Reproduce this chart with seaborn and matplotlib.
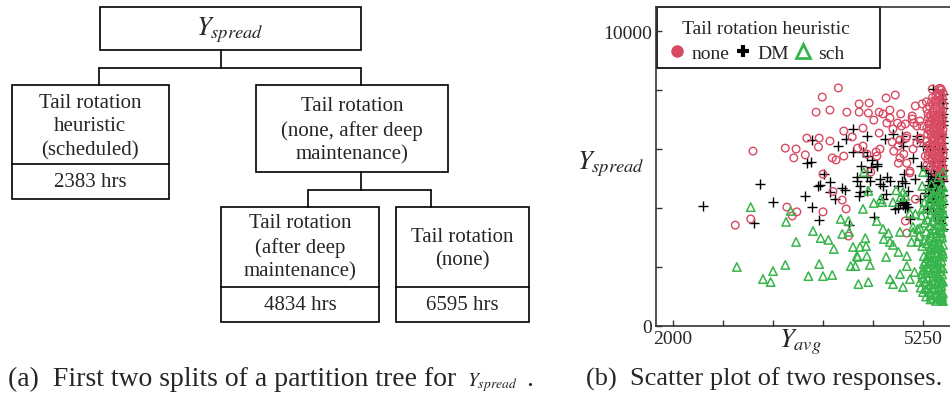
import matplotlib
matplotlib.use("Agg")
import matplotlib.pyplot as plt
import seaborn as sns
import pandas as pd
from matplotlib.patches import Rectangle
from matplotlib.lines import Line2D

# ---------------- data ----------------
categories = ["none", "DM", "sch"]
legend_title = "Tail rotation heuristic"

none_pts = [
    (3040, 5930), (2810, 3420), (3010, 3630), (3460, 6030), (3600, 6000), (3570, 5700), (3720, 5800),
    (3740, 6370), (3900, 6370), (3940, 7760), (3860, 7250), (4040, 7320), (4150, 8070), (4260, 7250),
    (4420, 7530), (4550, 7560), (4420, 7250), (4610, 6980), (4770, 7730), (4890, 7830), (4820, 7320),
    (4730, 7190), (4960, 7190), (4780, 6880), (3890, 6070), (4040, 6270), (4070, 5700), (4120, 5630),
    (4220, 5760), (4330, 6410), (4470, 6710), (4400, 6030), (4470, 6100), (4520, 5830), (4650, 5760),
    (4680, 6540), (4570, 5220), (3950, 3870), (4250, 3970), (4200, 4270), (4280, 3050), (4080, 4560),
    (3480, 4030), (3550, 3730), (3610, 3870), (4850, 6240), (4870, 5930), (4950, 5700), (5000, 5830),
    (4860, 6680), (5040, 6440), (5110, 7020), (5150, 7460), (5240, 7530), (5170, 6780), (5210, 6340),
    (5280, 5760), (5150, 4300), (5080, 5250), (5370, 8030), (4220, 6610), (3950, 5150), (4540, 7220),
    (4680, 7250), (4820, 7050), (4920, 6880), (4970, 6780), (5020, 6850), (4950, 6300), (5030, 6370),
    (4930, 6100), (4690, 6000), (4640, 5900), (4930, 5520), (5040, 5520), (5080, 5190), (5110, 7120),
    (5210, 6950), (5130, 6880), (5240, 6780), (5300, 6710), (5210, 6370), (5300, 6270), (5120, 6000),
    (5170, 6200), (5370, 5600), (5020, 3560), (5040, 3150),
    (5300, 7350), (5320, 7050), (5330, 6850), (5310, 6500), (5340, 6150), (5330, 5900), (5310, 5650),
    (5350, 5400), (5360, 7600), (5380, 7300), (5370, 7000), (5390, 6700), (5360, 6400), (5400, 6100),
    (5380, 5800), (5390, 5500), (5400, 5250), (5420, 7800), (5410, 7450), (5430, 7150), (5420, 6900),
    (5440, 6600), (5410, 6300), (5430, 6000), (5420, 5700), (5440, 5400), (5460, 7650), (5470, 7350),
    (5450, 7050), (5480, 6750), (5460, 6450), (5470, 6200), (5450, 5900), (5480, 5600), (5470, 5300),
    (5500, 7750), (5510, 7500), (5490, 7200), (5500, 6950), (5510, 6650), (5490, 6350), (5500, 6050),
    (5510, 5800), (5490, 5500), (5500, 5200), (5440, 7900), (5480, 8050), (5350, 7150), (5400, 6500),
    (5450, 6300), (5350, 6700), (5420, 5550), (5500, 7050), (5460, 5100), (5510, 5050),
    (5295, 7600), (5315, 7200), (5325, 6650), (5305, 6100), (5320, 5800), (5300, 5450), (5335, 7450),
    (5345, 6950), (5355, 6550), (5345, 6000), (5365, 5700), (5375, 7750), (5385, 7150), (5395, 6850),
    (5375, 6250), (5365, 5950), (5405, 7600), (5415, 7050), (5405, 6750), (5425, 6450), (5415, 6150),
    (5405, 5850), (5425, 5400), (5445, 7750), (5435, 7300), (5455, 6950), (5445, 6700), (5435, 6150),
    (5455, 5750), (5445, 5550), (5465, 7850), (5475, 7150), (5485, 6900), (5465, 6600), (5485, 6450),
    (5475, 6000), (5465, 5750), (5485, 5400), (5495, 7600), (5505, 7300), (5495, 6800), (5505, 6500),
    (5495, 6200), (5505, 5950), (5495, 5650), (5505, 5350), (5510, 7900), (5490, 8000), (5460, 8050),
    (5420, 7650),
]

dm_pts = [
    (2390, 4070), (3130, 4810), (3300, 4200), (3050, 3490), (3720, 4410), (3740, 5530), (3810, 6310),
    (3810, 4030), (3900, 3590), (3960, 5150), (3910, 4780), (4040, 4880), (4110, 4300), (4200, 4680),
    (4290, 3420), (4150, 6100), (4250, 6340), (4340, 6680), (4520, 6440), (4340, 5900), (4390, 4920),
    (4430, 4540), (4520, 5050), (4590, 5630), (4650, 5420), (4690, 4810), (4730, 4300), (4610, 3700),
    (4760, 6340), (4860, 6510), (4980, 6440), (4890, 3970), (4820, 4920), (5000, 5150), (4990, 6100),
    (5020, 4850), (5040, 4030), (5150, 4980), (5210, 4300), (5080, 3630), (5170, 6340), (5250, 6100),
    (5380, 8030), (3790, 5560), (3890, 4750), (4040, 4540), (4230, 4610), (4420, 4410), (4470, 5900),
    (4520, 5760), (4650, 5500), (4580, 5390), (4450, 5420), (4390, 5050), (4520, 5220), (4560, 4920),
    (4690, 4980), (4730, 4750), (4430, 4750), (4520, 4580), (4780, 5050), (4770, 4470), (4920, 4750),
    (4980, 4920), (5050, 4580), (4960, 6230), (5170, 6440), (5120, 5700), (5230, 5420), (5340, 6100),
    (5310, 4780), (5400, 6000), (5380, 5420), (5450, 5250), (5500, 4980), (5430, 4850), (5360, 4680),
    (4990, 4100), (5010, 4000), (5030, 4150), (5000, 4220), (5060, 4050), (4950, 4170), (4930, 4000),
    (5310, 5100), (5340, 4900), (5370, 4700), (5400, 4500), (5430, 4300), (5460, 4100), (5490, 3900),
    (5510, 3700), (5320, 4400), (5350, 4200), (5380, 4000), (5410, 3800), (5440, 3600), (5470, 5100),
    (5500, 4600), (5510, 5300), (5480, 5600), (5500, 5900), (5510, 6200), (5490, 6500), (5510, 6800),
    (5500, 7100), (5510, 7400), (5500, 7700), (5290, 5300), (5420, 5050), (5450, 4750), (5480, 4400),
    (5510, 4150), (5440, 5300), (5360, 5000), (5330, 4650), (5280, 4500), (5300, 3950), (5400, 4750),
    (5480, 3500), (5510, 3300),
    (5390, 5150), (5420, 4950), (5460, 4850), (5490, 5150), (5510, 4900), (5480, 4650), (5450, 4450),
    (5420, 4600), (5390, 4350), (5510, 4450), (5500, 5450), (5510, 5700), (5505, 6000), (5510, 6400),
    (5505, 6950), (5510, 7200), (5505, 7550), (5510, 7850), (5495, 5250), (5360, 5200),
]

sch_pts = [
    (2830, 2000), (3010, 4030), (3170, 1590), (3270, 1490), (3300, 1860), (3460, 2070), (3470, 3530),
    (3530, 3900), (3600, 2850), (3760, 1690), (3820, 3220), (3900, 2100), (3920, 2980), (3950, 1690),
    (4020, 2920), (4070, 1730), (4090, 2610), (4180, 3630), (4200, 3120), (4280, 3560), (4290, 3190),
    (4310, 2030), (4370, 2030), (4410, 1420), (4390, 2370), (4430, 2680), (4520, 2370), (4510, 2710),
    (4540, 1490), (4480, 5220), (4470, 3970), (4540, 4580), (4610, 4170), (4720, 4200), (4730, 3290),
    (4740, 2950), (4820, 1590), (4860, 1420), (4770, 2340), (4930, 2510), (4990, 4540), (4950, 3190),
    (4990, 1320), (5040, 2030), (5040, 2370), (5080, 1590), (5120, 3190), (5180, 2850), (5210, 1490),
    (5240, 4750), (5250, 5220), (4860, 4200), (4650, 3560), (4800, 3150), (4500, 2980), (4340, 2680),
    (4400, 2340), (4820, 2850), (4560, 2070), (4950, 1760), (4860, 2750), (5100, 2850), (5120, 3360),
    (5200, 3050), (5180, 3290), (5210, 3320), (5240, 2710), (5260, 2370), (5140, 1830), (5250, 1630),
    (5080, 3830), (5150, 3800), (5240, 3970), (5270, 4200), (5340, 4200), (5380, 3930), (5380, 4370),
    (4960, 4370), (5020, 4410), (4700, 4300), (4900, 4600),
    (5300, 4000), (5310, 3600), (5290, 3200), (5300, 2800), (5320, 2400), (5300, 2000), (5310, 1600),
    (5290, 1250), (5340, 4300), (5350, 3800), (5340, 3400), (5360, 3000), (5340, 2600), (5350, 2200),
    (5360, 1800), (5340, 1400), (5350, 1050), (5380, 4500), (5390, 4100), (5400, 3700), (5380, 3300),
    (5390, 2900), (5400, 2500), (5380, 2100), (5390, 1700), (5400, 1300), (5380, 950), (5420, 4650),
    (5430, 4250), (5420, 3850), (5440, 3450), (5420, 3050), (5430, 2650), (5440, 2250), (5420, 1850),
    (5430, 1450), (5440, 1100), (5460, 4400), (5470, 4000), (5460, 3600), (5480, 3200), (5460, 2800),
    (5470, 2400), (5480, 2000), (5460, 1600), (5470, 1200), (5480, 900), (5500, 4750), (5510, 4350),
    (5500, 3950), (5510, 3550), (5490, 3150), (5510, 2750), (5500, 2350), (5510, 1950), (5490, 1550),
    (5500, 1150), (5510, 850), (5270, 3500), (5260, 2900), (5280, 2200), (5250, 1900), (5230, 3750),
    (5320, 4550), (5450, 5050), (5510, 5200), (5360, 4800), (5420, 2000), (5350, 2700), (5480, 3400),
    (5400, 1500), (5330, 1150), (5460, 1000), (5500, 1000),
    (5490, 4550), (5470, 4250), (5500, 4150), (5450, 3850), (5490, 3750), (5510, 3350), (5470, 3350),
    (5440, 3150), (5500, 3000), (5410, 3250), (5370, 3550), (5350, 3150), (5320, 2900), (5390, 2750),
    (5450, 2950), (5480, 2650), (5500, 2550), (5440, 2450), (5410, 2650), (5370, 2350), (5330, 2150),
    (5300, 2300), (5260, 2100), (5240, 1750), (5220, 1300), (5250, 1150), (5280, 1500), (5290, 1800),
    (5320, 1900), (5360, 1550), (5380, 1250), (5410, 1050), (5450, 1300), (5490, 1350), (5510, 1100),
    (5480, 1450), (5450, 1700), (5500, 1750), (5470, 1850), (5430, 2100), (5490, 2200), (5510, 2450),
    (5400, 2200), (5360, 2450), (5320, 1300), (5290, 1000), (5350, 900), (5420, 850), (5470, 950),
    (5500, 850), (5510, 1500), (5400, 1950), (5440, 2650), (5470, 3050), (5510, 3850), (5490, 4300),
    (5460, 4600), (5510, 4700),
]

x_ticks = [2000, 2650, 3300, 3950, 4600, 5250]
x_tick_labels = ["2000", "", "", "", "", "5250"]
y_ticks = [0, 2000, 4000, 6000, 8000, 10000]
y_tick_labels = ["0", "", "", "", "", "10000"]

# partition tree texts
tree_root = r"$Y_{spread}$"
tree_left = "Tail rotation\nheuristic\n(scheduled)"
tree_left_val = "2383 hrs"
tree_right = "Tail rotation\n(none, after deep\nmaintenance)"
tree_ll = "Tail rotation\n(after deep\nmaintenance)"
tree_ll_val = "4834 hrs"
tree_lr = "Tail rotation\n(none)"
tree_lr_val = "6595 hrs"
caption_a = "(a)  First two splits of a partition tree for"
caption_a_math = r"$Y_{spread}$"
caption_b = "(b)  Scatter plot of two responses."

# ---------------- style ----------------
sns.set_style("ticks")
plt.rcParams["font.family"] = ["Liberation Serif", "DejaVu Serif"]
plt.rcParams["mathtext.fontset"] = "stix"

RED = "#d84a62"
GREEN = "#37b44a"

frames = []
for cat, pts in zip(categories, [none_pts, dm_pts, sch_pts]):
    d = pd.DataFrame(pts, columns=["Y_avg", "Y_spread"])
    d["heuristic"] = cat
    frames.append(d)
df = pd.concat(frames, ignore_index=True)

W, H = 950, 402
fig = plt.figure(figsize=(W / 100, H / 100), dpi=100)

# overlay axes in pixel coordinates for the tree diagram and captions
ov = fig.add_axes([0, 0, 1, 1])
ov.set_xlim(0, W)
ov.set_ylim(H, 0)
ov.axis("off")

LW = 1.2
def box(x0, y0, x1, y1):
    ov.add_patch(Rectangle((x0, y0), x1 - x0, y1 - y0, fill=False, ec="black", lw=LW))

def line(xs, ys):
    ov.add_line(Line2D(xs, ys, color="black", lw=LW))

TFS = 15
LS = 1.32
# root
box(100, 8, 361, 51)
ov.text(230, 30, tree_root, ha="center", va="center", fontsize=19)
line([221, 221], [51, 69])
line([99, 361], [69, 69])
line([99, 99], [69, 86])
line([361, 361], [69, 86])
# left leaf
box(12, 86, 169, 200)
line([12, 169], [165, 165])
ov.text(90, 127, tree_left, ha="center", va="center", fontsize=TFS, linespacing=LS)
ov.text(90, 183, tree_left_val, ha="center", va="center", fontsize=TFS)
# right node
box(256, 86, 448, 173)
ov.text(352, 131, tree_right, ha="center", va="center", fontsize=TFS, linespacing=LS)
line([361, 361], [173, 191])
line([308, 431], [191, 191])
line([308, 308], [191, 208])
line([431, 431], [191, 208])
# bottom leaves
box(221, 208, 379, 323)
line([221, 379], [288, 288])
ov.text(300, 248, tree_ll, ha="center", va="center", fontsize=TFS, linespacing=LS)
ov.text(300, 306, tree_ll_val, ha="center", va="center", fontsize=TFS)
box(396, 208, 529, 323)
line([396, 529], [288, 288])
ov.text(462, 249, tree_lr, ha="center", va="center", fontsize=TFS, linespacing=LS)
ov.text(462, 306, tree_lr_val, ha="center", va="center", fontsize=TFS)

# legend frame of panel (b)
ov.add_patch(Rectangle((657, 8), 223, 61, fill=True, fc="white", ec="black", lw=1.2, zorder=5))

# captions (math part placed right after the measured main text)
ta = ov.text(8, 386, caption_a, ha="left", va="baseline", fontsize=20)
fig.canvas.draw()
rend = fig.canvas.get_renderer()
x_end = ta.get_window_extent(rend).x1
tm = ov.text(x_end + 11, 386, caption_a_math, ha="left", va="baseline", fontsize=14)
fig.canvas.draw()
x_end2 = tm.get_window_extent(rend).x1
ov.text(x_end2 + 8, 386, ".", ha="left", va="baseline", fontsize=20)
ov.text(586, 386, caption_b, ha="left", va="baseline", fontsize=19)

# ---------------- scatter ----------------
left_px, right_px, top_px, bot_px = 656, 950, 8, 327
ax = fig.add_axes([left_px / W, (H - bot_px) / H, (right_px - left_px) / W, (bot_px - top_px) / H])
ax.set_facecolor("none")

sns.scatterplot(data=df[df.heuristic == "DM"], x="Y_avg", y="Y_spread", marker="+",
                color="black", s=55, linewidth=1.0, ax=ax, legend=False, zorder=2)
sns.scatterplot(data=df[df.heuristic == "none"], x="Y_avg", y="Y_spread", marker="o",
                color=RED, facecolor="none", edgecolor=RED, s=30, linewidth=1.0, ax=ax,
                legend=False, zorder=3)
sns.scatterplot(data=df[df.heuristic == "sch"], x="Y_avg", y="Y_spread", marker="^",
                color=GREEN, facecolor="none", edgecolor=GREEN, s=36, linewidth=1.1, ax=ax,
                legend=False, zorder=4)

ax.set_xlim(1779, 5601)
ax.set_ylim(0, 10815)
ax.set_xticks(x_ticks)
ax.set_xticklabels(x_tick_labels)
ax.set_yticks(y_ticks)
ax.set_yticklabels(y_tick_labels)
ax.tick_params(direction="in", length=4, width=1, color="#333333", labelsize=14, pad=3)
ax.spines["right"].set_visible(False)
for s in ["left", "bottom", "top"]:
    ax.spines[s].set_color("#333333")
    ax.spines[s].set_linewidth(1.2)
ax.set_xlabel("")
ax.set_ylabel("")
fig.text(800 / W, 1 - 342 / H, r"$Y_{avg}$", ha="center", va="center", fontsize=19)
fig.text(645 / W, 1 - 164 / H, r"$Y_{spread}$", ha="right", va="center", fontsize=19)

handles = [
    Line2D([], [], marker="o", linestyle="", color=RED, markersize=8),
    Line2D([], [], marker="+", linestyle="", color="black", markersize=9, markeredgewidth=3),
    Line2D([], [], marker="^", linestyle="", markerfacecolor="none", markeredgecolor=GREEN,
           markersize=10, markeredgewidth=2),
]
leg = ax.legend(handles, categories, title="    " + legend_title, loc="upper left",
                bbox_to_anchor=((653.5 - left_px) / (right_px - left_px), 1 - 3.5 / (bot_px - top_px)),
                borderaxespad=0, ncol=3, fontsize=14,
                title_fontsize=14, frameon=False, handletextpad=0.35,
                columnspacing=0.3, handlelength=0.8, borderpad=0.5, labelspacing=0.35)
leg.set_zorder(10)

fig.savefig("out.png", dpi=100)
